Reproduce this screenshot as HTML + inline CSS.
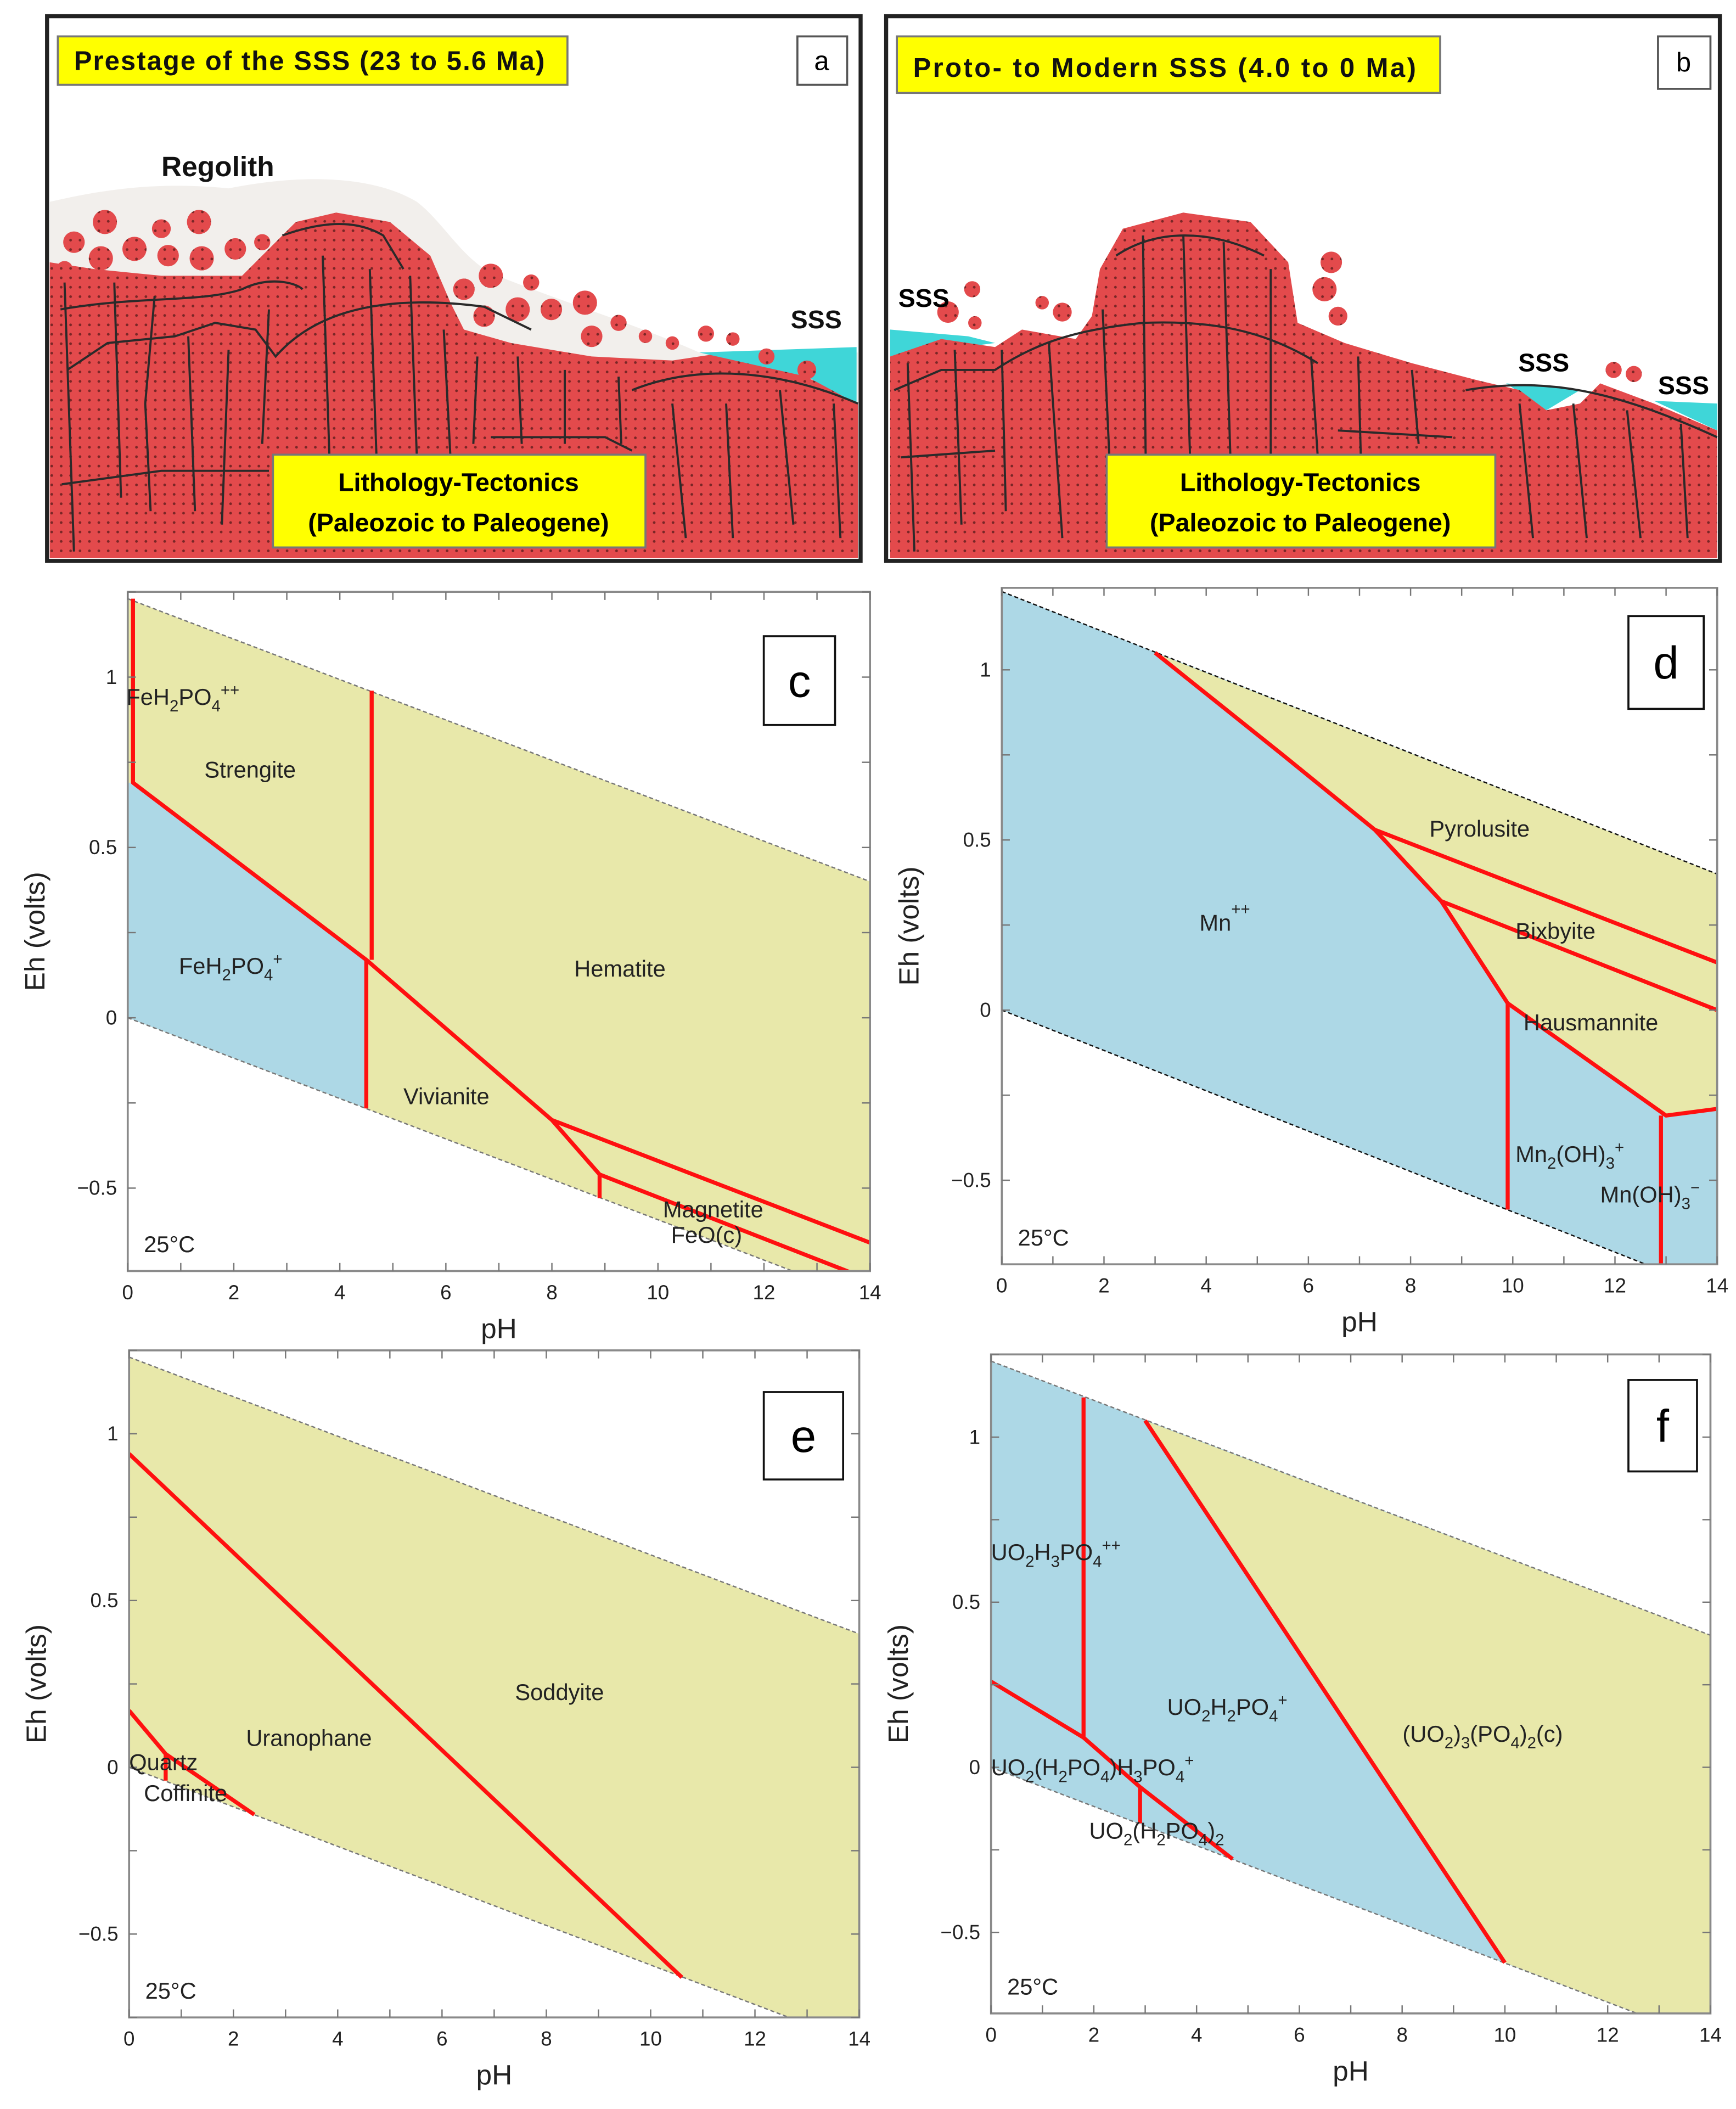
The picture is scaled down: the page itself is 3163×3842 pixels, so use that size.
<!DOCTYPE html>
<html><head><meta charset="utf-8"><style>
html,body{margin:0;padding:0;background:#fff}
svg{display:block}
text{font-family:"Liberation Sans",sans-serif}
</style></head><body>
<svg id="root" width="3163" height="3842" viewBox="0 0 1291 1568" xmlns="http://www.w3.org/2000/svg">
<defs>
<pattern id="dots" width="7" height="7" patternUnits="userSpaceOnUse"><rect width="7" height="7" fill="#e34a4c"/><circle cx="3.5" cy="3.5" r="1" fill="#7a2626"/></pattern>
</defs>
<rect width="1291" height="1568" fill="#fff"/>

<!-- Panel a -->
<g>
<rect x="35" y="12" width="605" height="405" fill="#fff" stroke="#222" stroke-width="3"/>
<path d="M37,150 C80,140 120,135 170,140 C230,128 280,132 310,150 C330,165 345,195 370,205 C420,225 470,240 520,262 L638,262 L638,300 L37,300 Z" fill="#f2efec"/>
<path d="M37,195 L70,200 L120,205 L180,205 L205,180 L220,165 L250,158 L290,165 L320,190 L335,225 L345,245 L380,255 L440,265 L500,268 L540,262 L580,272 L610,285 L638,300 L638,415 L37,415 Z" fill="url(#dots)"/>
<path d="M520,262 L637,258 L637,300 L600,280 Z" fill="#3fd6d8"/>
<g fill="url(#dots)">
<circle cx="55" cy="180" r="8"/><circle cx="78" cy="165" r="9"/><circle cx="75" cy="192" r="9"/><circle cx="100" cy="185" r="9"/><circle cx="120" cy="170" r="7"/><circle cx="125" cy="190" r="8"/><circle cx="148" cy="165" r="9"/><circle cx="150" cy="192" r="9"/><circle cx="175" cy="185" r="8"/><circle cx="195" cy="180" r="6"/><circle cx="48" cy="200" r="6"/>
<circle cx="345" cy="215" r="8"/><circle cx="365" cy="205" r="9"/><circle cx="360" cy="235" r="8"/><circle cx="385" cy="230" r="9"/><circle cx="395" cy="210" r="6"/><circle cx="410" cy="230" r="8"/><circle cx="435" cy="225" r="9"/><circle cx="440" cy="250" r="8"/><circle cx="460" cy="240" r="6"/><circle cx="480" cy="250" r="5"/><circle cx="500" cy="255" r="5"/><circle cx="525" cy="248" r="6"/><circle cx="545" cy="252" r="5"/><circle cx="570" cy="265" r="6"/><circle cx="600" cy="275" r="7"/>
</g>
<g fill="none" stroke="#2a2a2a" stroke-width="1.6">
<path d="M45,230 C100,220 150,225 180,215 C200,205 220,210 225,215"/><path d="M50,275 L80,255 L130,250 L160,240 L190,245 L205,265 C240,225 300,220 360,228 L395,245"/>
<path d="M210,175 C230,168 260,160 285,175 L300,200"/><path d="M46,360 L120,350 L200,350"/><path d="M365,325 L450,325 L470,335"/><path d="M470,290 C520,270 580,275 638,300"/>
<path d="M48,210 L55,410"/><path d="M85,210 L90,370"/><path d="M115,220 L108,300 L112,380"/><path d="M140,250 L145,380"/><path d="M170,260 L165,390"/><path d="M200,230 L195,330"/><path d="M240,190 L245,340"/><path d="M275,200 L280,340"/><path d="M305,205 L310,340"/><path d="M330,245 L335,340"/><path d="M355,265 L352,330"/><path d="M385,265 L388,330"/><path d="M420,275 L420,330"/><path d="M460,280 L462,330"/><path d="M500,300 L510,400"/><path d="M540,300 L545,400"/><path d="M580,290 L590,390"/><path d="M620,300 L625,400"/>
</g>
<rect x="43" y="27" width="379" height="36" fill="#ffff00" stroke="#777" stroke-width="1.5"/>
<text x="55" y="52" font-size="20" font-weight="bold" fill="#111" textLength="350">Prestage of the SSS (23 to 5.6 Ma)</text>
<rect x="593" y="27" width="37" height="36" fill="#fff" stroke="#555" stroke-width="1.5"/>
<text x="611" y="52" font-size="20" text-anchor="middle">a</text>
<text x="120" y="131" font-size="21" font-weight="bold" fill="#111">Regolith</text>
<text x="588" y="244" font-size="19" font-weight="bold" fill="#111">SSS</text>
<rect x="203" y="338" width="277" height="69" fill="#ffff00" stroke="#777" stroke-width="1.5"/>
<text x="341" y="365" font-size="19" font-weight="bold" text-anchor="middle">Lithology-Tectonics</text>
<text x="341" y="395" font-size="19" font-weight="bold" text-anchor="middle">(Paleozoic to Paleogene)</text>
</g>

<!-- Panel b -->
<g>
<rect x="659" y="12" width="620" height="405" fill="#fff" stroke="#222" stroke-width="3"/>
<path d="M662,245 L720,250 L740,255 L662,265 Z M1120,285 L1175,290 L1150,305 Z M1230,298 L1277,300 L1277,320 Z" fill="#3fd6d8"/>
<path d="M662,265 L700,252 L740,258 L760,245 L800,252 L812,235 L818,200 L835,170 L880,158 L930,165 L958,195 L965,240 L1000,255 L1050,270 L1100,283 L1130,290 L1150,305 L1175,300 L1190,285 L1230,300 L1277,320 L1277,415 L662,415 Z" fill="url(#dots)"/>
<g fill="url(#dots)">
<circle cx="705" cy="232" r="8"/><circle cx="723" cy="215" r="6"/><circle cx="725" cy="240" r="5"/><circle cx="790" cy="232" r="7"/><circle cx="775" cy="225" r="5"/>
<circle cx="990" cy="195" r="8"/><circle cx="985" cy="215" r="9"/><circle cx="995" cy="235" r="7"/><circle cx="1200" cy="275" r="6"/><circle cx="1215" cy="278" r="6"/>
</g>
<g fill="none" stroke="#2a2a2a" stroke-width="1.6">
<path d="M665,290 L700,275 L740,275 C770,255 800,245 850,240 C900,238 940,245 980,270"/><path d="M830,190 C860,170 900,170 940,190"/><path d="M670,340 L740,335"/><path d="M995,320 L1080,325"/><path d="M1090,290 C1150,280 1200,290 1277,325"/>
<path d="M675,270 L680,410"/><path d="M710,260 L715,390"/><path d="M745,260 L748,380"/><path d="M780,255 L790,400"/><path d="M820,230 L825,340"/><path d="M850,175 L852,340"/><path d="M880,175 L885,340"/><path d="M910,180 L915,340"/><path d="M945,200 L945,340"/><path d="M975,265 L980,340"/><path d="M1010,265 L1012,340"/><path d="M1050,275 L1055,330"/><path d="M1130,300 L1140,400"/><path d="M1170,300 L1180,400"/><path d="M1210,305 L1220,400"/><path d="M1250,315 L1255,400"/>
</g>
<rect x="667" y="27" width="404" height="42" fill="#ffff00" stroke="#777" stroke-width="1.5"/>
<text x="679" y="57" font-size="20" font-weight="bold" fill="#111" textLength="374">Proto- to Modern SSS (4.0 to 0 Ma)</text>
<rect x="1233" y="27" width="39" height="39" fill="#fff" stroke="#555" stroke-width="1.5"/>
<text x="1252" y="53" font-size="20" text-anchor="middle">b</text>
<text x="668" y="228" font-size="19" font-weight="bold">SSS</text>
<text x="1129" y="276" font-size="19" font-weight="bold">SSS</text>
<text x="1233" y="293" font-size="19" font-weight="bold">SSS</text>
<rect x="823" y="338" width="289" height="69" fill="#ffff00" stroke="#777" stroke-width="1.5"/>
<text x="967" y="365" font-size="19" font-weight="bold" text-anchor="middle">Lithology-Tectonics</text>
<text x="967" y="395" font-size="19" font-weight="bold" text-anchor="middle">(Paleozoic to Paleogene)</text>
</g>
<g id="charts"></g>
</svg>
<script>
// ---------- data (pH, Eh) ----------
const xTicks = [0,2,4,6,8,10,12,14];
const yTicks = [-0.5,0,0.5,1];
const yTickLabels = ["\u22120.5","0","0.5","1"];
// water stability limits
const waterTop = [[0,1.23],[14,0.40]];
const waterBot = [[0,0.0],[14,-0.83]];
// panel c
const cBlue = [[0,0.69],[0.1,0.69],[4.5,0.17],[4.5,-0.266],[0,0]];
const cRed = [
 [[0.1,1.23],[0.1,0.69],[4.5,0.17],[8.0,-0.30],[8.9,-0.46],[14,-0.77]],
 [[8.0,-0.30],[14,-0.66]],
 [[4.6,0.96],[4.6,0.17]],[[4.5,0.17],[4.5,-0.266]],[[8.9,-0.46],[8.9,-0.53]]];
// panel d
const dYellow = [[3.0,1.05],[14,0.40],[14,-0.29],[13,-0.31],[9.9,0.02],[8.6,0.32],[7.3,0.53],[5.5,0.75]];
const dRed = [
 [[3.0,1.05],[5.5,0.75],[7.3,0.53],[8.6,0.32],[9.9,0.02],[13,-0.31],[14,-0.29]],
 [[7.3,0.53],[14,0.14]],[[8.6,0.32],[14,0.0]],
 [[9.9,0.02],[9.9,-0.586]],[[12.9,-0.31],[12.9,-0.77]]];
// panel e
const eRed = [[[0,0.94],[10.6,-0.63]],[[0,0.17],[0.7,0.04],[2.4,-0.142]],[[0.7,0.04],[0.7,-0.04]]];
// panel f
const fYellow = [[3.0,1.05],[14,0.40],[14,-0.83],[10.0,-0.592]];
const fRed = [[[3.0,1.05],[10.0,-0.592]],[[1.8,1.12],[1.8,0.09]],
 [[0,0.26],[1.8,0.09],[2.9,-0.06],[4.7,-0.278]],[[2.9,-0.06],[2.9,-0.17]]];

const NS="http://www.w3.org/2000/svg";
const root=document.getElementById('charts');
function mk(tag,attrs,parent){const e=document.createElementNS(NS,tag);for(const k in attrs)e.setAttribute(k,attrs[k]);(parent||root).appendChild(e);return e;}

function chart(cfg){
 const g=mk('g',{});
 
 
 const X=p=>cfg.x0+(p/14)*(cfg.x1-cfg.x0);
 const Y=v=>cfg.yz-v*cfg.ppv;
 const cp='clip'+cfg.name;
 const c=mk('clipPath',{id:cp},g);mk('rect',{x:cfg.x0,y:cfg.top,width:cfg.x1-cfg.x0,height:cfg.bot-cfg.top},c);
 const pts=a=>a.map(p=>X(p[0]).toFixed(1)+','+Y(p[1]).toFixed(1)).join(' ');
 const body=mk('g',{'clip-path':'url(#'+cp+')'},g);
 const water=waterTop.concat(waterBot.slice().reverse());
 const w=mk('polygon',{points:pts(water),fill:cfg.base},body);
 
 
 (cfg.fills||[]).forEach(f=>{const p=mk('polygon',{points:pts(f.poly),fill:f.color},body);
  
  });
 [waterTop,waterBot].forEach(l=>{const p=mk('polyline',{points:pts(l),fill:'none',stroke:cfg.dash,'stroke-width':1,'stroke-dasharray':'3,2'},body);
  
  });
 cfg.red.forEach(l=>{const p=mk('polyline',{points:pts(l),fill:'none',stroke:'#ff1010','stroke-width':3,'stroke-linejoin':'round'},body);
  
  });
 const fr=mk('rect',{x:cfg.x0,y:cfg.top,width:cfg.x1-cfg.x0,height:cfg.bot-cfg.top,fill:'none',stroke:'#8a8a8a','stroke-width':1.5},g);
 
 
 for(let p=0;p<=14;p++){mk('line',{x1:X(p),x2:X(p),y1:cfg.bot,y2:cfg.bot-6,stroke:'#777'},g);mk('line',{x1:X(p),x2:X(p),y1:cfg.top,y2:cfg.top+6,stroke:'#777'},g);}
 for(let v=-0.75;v<=1.26;v+=0.25){if(Y(v)<cfg.top||Y(v)>cfg.bot)continue;mk('line',{x1:cfg.x0,x2:cfg.x0+6,y1:Y(v),y2:Y(v),stroke:'#777'},g);mk('line',{x1:cfg.x1,x2:cfg.x1-6,y1:Y(v),y2:Y(v),stroke:'#777'},g);}
 xTicks.forEach(t=>{const e=mk('text',{x:X(t),y:cfg.bot+21,'font-size':15,'text-anchor':'middle',fill:'#222'},g);e.textContent=t;
  
  });
 yTicks.forEach((t,i)=>{const e=mk('text',{x:cfg.x0-8,y:Y(t)+5,'font-size':15,'text-anchor':'end',fill:'#222'},g);e.textContent=yTickLabels[i];
  
  });
 const xt=mk('text',{x:(cfg.x0+cfg.x1)/2,y:cfg.bot+50,'font-size':21,'text-anchor':'middle',fill:'#222'},g);xt.textContent='pH';
 
 
 const cy=(cfg.top+cfg.bot)/2;
 const yt=mk('text',{x:cfg.x0-62,y:cy,'font-size':21,'text-anchor':'middle',fill:'#222',transform:'rotate(-90 '+(cfg.x0-62)+' '+cy+')'},g);yt.textContent='Eh (volts)';
 
 
 const tc=mk('text',{x:cfg.x0+12,y:cfg.bot-14,'font-size':17,fill:'#222'},g);tc.textContent='25°C';
 
 
 const lb=mk('rect',{x:cfg.lbl[0],y:cfg.lbl[1],width:cfg.lbl[2],height:cfg.lbl[3],fill:'#fff',stroke:'#111','stroke-width':1.5},g);
 
 
 const lt=mk('text',{x:cfg.lbl[0]+cfg.lbl[2]/2,y:cfg.lbl[1]+cfg.lbl[3]/2+12,'font-size':34,'text-anchor':'middle'},g);lt.textContent=cfg.letter;
 cfg.labels.forEach(L=>{const t=mk('text',{x:L[0],y:L[1],'font-size':17,fill:'#222'},g);
  
  
  L[2].forEach(s=>{const ts=mk('tspan',{},t);ts.textContent=s[0];if(s[1]==='sub'){ts.setAttribute('dy','5');ts.setAttribute('font-size','12');}else if(s[1]==='sup'){ts.setAttribute('dy','-12');ts.setAttribute('font-size','12');}else if(s[1]==='back'){ts.setAttribute('dy','-5');}else if(s[1]==='up'){ts.setAttribute('dy','12');}});
 });
}
const N=null;
chart({name:'chart-c',letter:'c',x0:95,x1:647,top:440,bot:945,yz:756.7,ppv:253.3,base:'#e8e8aa',dash:'#777',
 fills:[{poly:cBlue,color:'#add8e6'}],red:cRed,lbl:[568,473,53,66],
 labels:[[94,524,[['FeH',N],['2','sub'],['PO','back'],['4','sub'],['++','sup']]],[152,578,[['Strengite',N]]],[133,724,[['FeH',N],['2','sub'],['PO','back'],['4','sub'],['+','sup']]],[427,726,[['Hematite',N]]],[300,821,[['Vivianite',N]]],[493,905,[['Magnetite',N]]],[499,924,[['FeO(c)',N]]]]});
chart({name:'chart-d',letter:'d',x0:745,x1:1277,top:437,bot:940,yz:751,ppv:253,base:'#add8e6',dash:'#111',
 fills:[{poly:dYellow,color:'#e8e8aa'}],red:dRed,lbl:[1211,458,56,69],
 labels:[[1063,622,[['Pyrolusite',N]]],[1127,698,[['Bixbyite',N]]],[1133,766,[['Hausmannite',N]]],[892,692,[['Mn',N],['++','sup']]],[1127,864,[['Mn',N],['2','sub'],['(OH)','back'],['3','sub'],['+','sup']]],[1190,894,[['Mn(OH)',N],['3','sub'],['\u2212','sup']]]]});
chart({name:'chart-e',letter:'e',x0:96,x1:639,top:1004,bot:1500,yz:1314,ppv:248,base:'#e8e8aa',dash:'#777',
 fills:[],red:eRed,lbl:[568,1035,59,65],
 labels:[[96,1316,[['Quartz',N]]],[107,1339,[['Coffinite',N]]],[183,1298,[['Uranophane',N]]],[383,1264,[['Soddyite',N]]]]});
chart({name:'chart-f',letter:'f',x0:737,x1:1272,top:1007,bot:1497,yz:1314,ppv:245.5,base:'#add8e6',dash:'#777',
 fills:[{poly:fYellow,color:'#e8e8aa'}],red:fRed,lbl:[1211,1026,51,68],
 labels:[[737,1160,[['UO',N],['2','sub'],['H','back'],['3','sub'],['PO','back'],['4','sub'],['++','sup']]],[868,1275,[['UO',N],['2','sub'],['H','back'],['2','sub'],['PO','back'],['4','sub'],['+','sup']]],[1043,1295,[['(UO',N],['2','sub'],[')','back'],['3','sub'],['(PO','back'],['4','sub'],[')','back'],['2','sub'],['(c)','back']]],[737,1320,[['UO',N],['2','sub'],['(H','back'],['2','sub'],['PO','back'],['4','sub'],[')H','back'],['3','sub'],['PO','back'],['4','sub'],['+','sup']]],[810,1367,[['UO',N],['2','sub'],['(H','back'],['2','sub'],['PO','back'],['4','sub'],[')','back'],['2','sub']]]]});
</script>
</body></html>
